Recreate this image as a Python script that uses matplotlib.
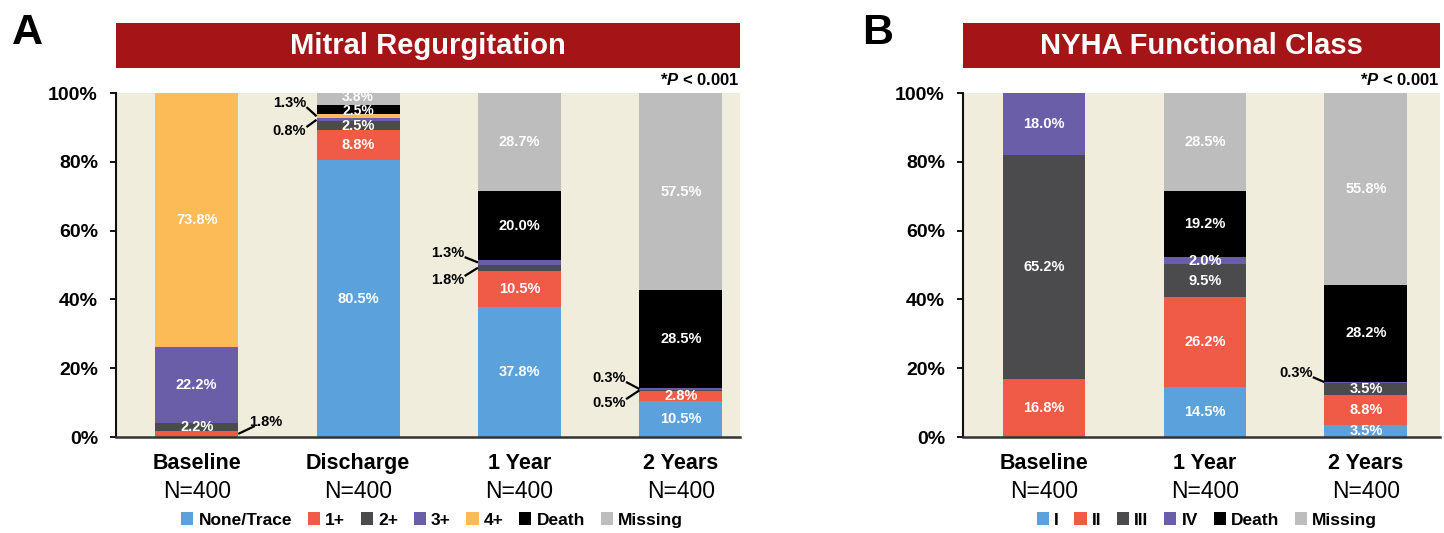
import matplotlib
matplotlib.use('Agg')
import matplotlib.pyplot as plt
from matplotlib.patches import Patch, Rectangle

plt.rcParams['font.family'] = ['Liberation Sans', 'DejaVu Sans']
plt.rcParams['mathtext.fontset'] = 'custom'
plt.rcParams['mathtext.it'] = 'Liberation Sans:italic:bold'
plt.rcParams['mathtext.rm'] = 'Liberation Sans:bold'
plt.rcParams['mathtext.bf'] = 'Liberation Sans:bold'

# ---------------- data ----------------
mr_categories = ['Baseline', 'Discharge', '1 Year', '2 Years']
mr_counts = ['N=400', 'N=400', 'N=400', 'N=400']
mr_series = ['None/Trace', '1+', '2+', '3+', '4+', 'Death', 'Missing']
mr_none = [0.0, 80.5, 37.8, 10.5]
mr_1plus = [1.8, 8.8, 10.5, 2.8]
mr_2plus = [2.2, 2.5, 1.8, 0.5]
mr_3plus = [22.2, 0.8, 1.3, 0.3]
mr_4plus = [73.8, 1.3, 0.0, 0.0]
mr_death = [0.0, 2.5, 20.0, 28.5]
mr_missing = [0.0, 3.8, 28.7, 57.5]

nyha_categories = ['Baseline', '1 Year', '2 Years']
nyha_counts = ['N=400', 'N=400', 'N=400']
nyha_series = ['I', 'II', 'III', 'IV', 'Death', 'Missing']
nyha_I = [0.0, 14.5, 3.5]
nyha_II = [16.8, 26.2, 8.8]
nyha_III = [65.2, 9.5, 3.5]
nyha_IV = [18.0, 2.0, 0.3]
nyha_death = [0.0, 19.2, 28.2]
nyha_missing = [0.0, 28.5, 55.8]

y_ticks = [0, 20, 40, 60, 80, 100]
y_ticklabels = ['0%', '20%', '40%', '60%', '80%', '100%']
p_text = r'*$\mathit{P}$ < 0.001'

# ---------------- style ----------------
C_BLUE = '#5BA2DC'
C_RED = '#F05B47'
C_DGREY = '#4B4B4D'
C_PURPLE = '#6A5EA8'
C_ORANGE = '#FDBB57'
C_BLACK = '#000000'
C_GREY = '#BDBDBD'
BG = '#F1EDDC'
BANNER = '#A51417'

W, H = 1444, 533
fig = plt.figure(figsize=(W / 100, H / 100), dpi=100)
fig.patch.set_facecolor('white')

BAR_W = 0.515
LBL = 10.5


def px_axes(left, top, right, bottom):
    return fig.add_axes([left / W, 1 - bottom / H, (right - left) / W, (bottom - top) / H])


def draw_panel(ax, cats, counts, values, colors, leaders, nudges, xlim):
    ax.set_facecolor(BG)
    n = len(cats)
    bottoms = [0.0] * n
    centers = {}
    for j, vals in enumerate(values):
        ax.bar(range(n), vals, bottom=bottoms, width=BAR_W, color=colors[j],
               linewidth=0, zorder=2)
        for i, v in enumerate(vals):
            centers[(j, i)] = bottoms[i] + v / 2
            if v <= 0:
                continue
            lab = f'{v:.1f}%'
            if (j, i) in leaders:
                tx, ty, lx, ly = leaders[(j, i)]
                ax.text(tx, ty, lab, ha='center', va='center', fontsize=LBL,
                        fontweight='bold', color='black', zorder=4, clip_on=False)
                edge = i - BAR_W / 2 if lx < i else i + BAR_W / 2
                ax.plot([lx, edge], [ly, centers[(j, i)]], color='black', lw=1.6,
                        zorder=4, clip_on=False, solid_capstyle='butt')
            else:
                fs = nudges.get((j, i), (0, LBL))
                ax.text(i, centers[(j, i)] + fs[0], lab, ha='center', va='center',
                        fontsize=fs[1], fontweight='bold', color='white', zorder=3,
                        clip_on=False)
        bottoms = [b + v for b, v in zip(bottoms, vals)]

    ax.set_xlim(*xlim)
    ax.set_ylim(0, 100)
    ax.set_yticks(y_ticks)
    ax.set_yticklabels(y_ticklabels, fontsize=14, fontweight='bold')
    ax.tick_params(axis='y', direction='out', length=4, width=1.3, pad=9)
    ax.set_xticks([])
    for s in ['top', 'right']:
        ax.spines[s].set_visible(False)
    ax.spines['left'].set_linewidth(1.5)
    ax.spines['left'].set_color('#111111')
    ax.spines['bottom'].set_linewidth(1.8)
    ax.spines['bottom'].set_color('#333333')
    tr = ax.get_xaxis_transform()
    for i, (c, nn) in enumerate(zip(cats, counts)):
        ax.text(i, -0.078, c, transform=tr, ha='center', va='center',
                fontsize=15.5, fontweight='bold')
        ax.text(i, -0.157, nn, transform=tr, ha='center', va='center', fontsize=16.5)


def banner(left, right, title):
    top, bottom = 23, 68
    fig.add_artist(Rectangle((left / W, 1 - bottom / H), (right - left) / W,
                             (bottom - top) / H, transform=fig.transFigure,
                             facecolor=BANNER, edgecolor='none'))
    fig.text((left + right) / 2 / W, 1 - (top + bottom) / 2 / H, title,
             ha='center', va='center', color='white', fontsize=21,
             fontweight='bold')
    fig.text(right / W, 1 - 80 / H, p_text, ha='right', va='center',
             fontsize=12, fontweight='bold')


# ---------------- panel A ----------------
axA = px_axes(116, 93, 740, 437)
mr_values = [mr_none, mr_1plus, mr_2plus, mr_3plus, mr_4plus, mr_death, mr_missing]
mr_colors = [C_BLUE, C_RED, C_DGREY, C_PURPLE, C_ORANGE, C_BLACK, C_GREY]
mr_leaders = {
    (1, 0): (0.43, 4.4, 0.36, 3.2),
    (4, 1): (0.575, 97.1, 0.68, 95.9),
    (3, 1): (0.575, 89.0, 0.68, 90.1),
    (3, 2): (1.555, 53.5, 1.66, 52.3),
    (2, 2): (1.555, 45.6, 1.66, 46.8),
    (3, 3): (2.555, 17.2, 2.66, 16.0),
    (2, 3): (2.555, 9.9, 2.66, 11.0),
}
mr_nudges = {(6, 1): (0.5, 10), (5, 1): (-0.3, 10)}
draw_panel(axA, mr_categories, mr_counts, mr_values, mr_colors, mr_leaders,
           mr_nudges, (-0.50, 3.366))
banner(116, 740, 'Mitral Regurgitation')
fig.text(12 / W, 1 - 33 / H, 'A', fontsize=31, fontweight='bold', va='center', ha='left')

handlesA = [Patch(facecolor=c, edgecolor='none') for c in mr_colors]
fig.legend(handlesA, mr_series, loc='center', bbox_to_anchor=(432 / W, 1 - 520 / H),
           ncol=7, frameon=False, handlelength=0.7, handleheight=0.7,
           handletextpad=0.3, columnspacing=0.9,
           prop={'weight': 'bold', 'size': 12.5})

# ---------------- panel B ----------------
axB = px_axes(963, 93, 1440, 437)
nyha_values = [nyha_I, nyha_II, nyha_III, nyha_IV, nyha_death, nyha_missing]
nyha_colors = [C_BLUE, C_RED, C_DGREY, C_PURPLE, C_BLACK, C_GREY]
nyha_leaders = {
    (3, 2): (1.565, 18.6, 1.67, 17.4),
}
draw_panel(axB, nyha_categories, nyha_counts, nyha_values, nyha_colors, nyha_leaders,
           {}, (-0.503, 2.46))
banner(963, 1440, 'NYHA Functional Class')
fig.text(862 / W, 1 - 33 / H, 'B', fontsize=31, fontweight='bold', va='center', ha='left')

handlesB = [Patch(facecolor=c, edgecolor='none') for c in nyha_colors]
fig.legend(handlesB, nyha_series, loc='center', bbox_to_anchor=(1207 / W, 1 - 520 / H),
           ncol=6, frameon=False, handlelength=0.7, handleheight=0.7,
           handletextpad=0.3, columnspacing=0.9,
           prop={'weight': 'bold', 'size': 12.5})

fig.savefig('out.png', dpi=100)
